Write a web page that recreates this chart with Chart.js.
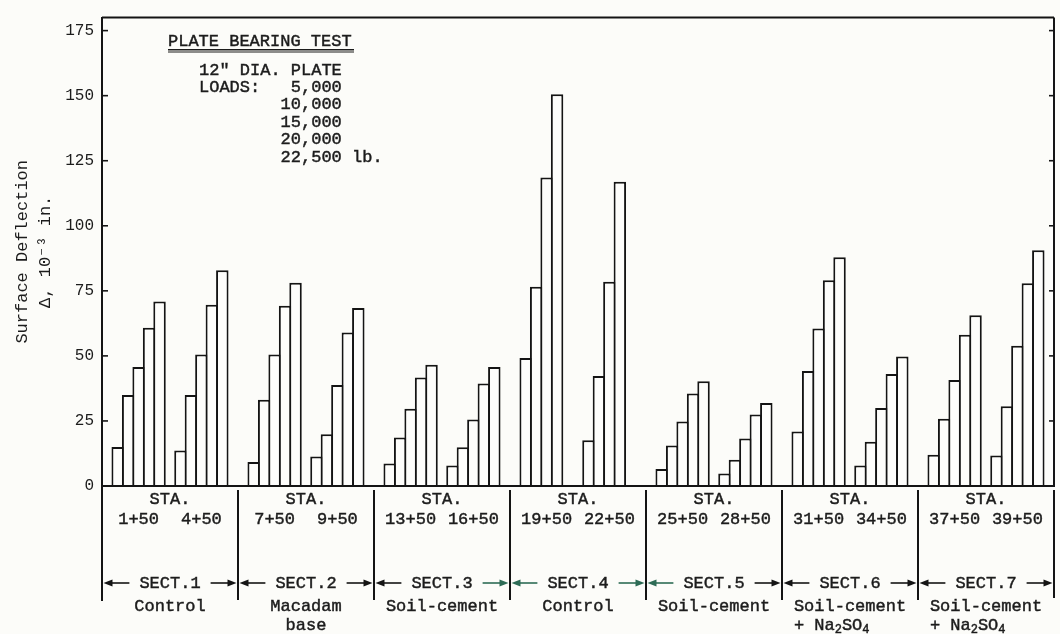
<!DOCTYPE html>
<html>
<head>
<meta charset="utf-8">
<title>Plate Bearing Test - Surface Deflection</title>
<script src="https://cdn.jsdelivr.net/npm/chart.js@4.4.1/dist/chart.umd.min.js"></script>
<style>
  html, body { margin: 0; padding: 0; background: #fcfcf9; }
  #wrap { width: 1060px; height: 634px; }
</style>
</head>
<body>
<div id="wrap"><canvas id="deflChart" width="1060" height="634"></canvas></div>
<script>
// ----- Data -----
const sections = ["SECT.1", "SECT.2", "SECT.3", "SECT.4", "SECT.5", "SECT.6", "SECT.7"];
const sectionTypes = [
  ["Control"],
  ["Macadam", "base"],
  ["Soil-cement"],
  ["Control"],
  ["Soil-cement"],
  ["Soil-cement", "+ Na2SO4"],
  ["Soil-cement", "+ Na2SO4"],
];
const stations = [
  "1+50", "4+50", "7+50", "9+50", "13+50", "16+50", "19+50",
  "22+50", "25+50", "28+50", "31+50", "34+50", "37+50", "39+50",
];
const loads = ["5,000", "10,000", "15,000", "20,000", "22,500"];

// surface deflection (10^-3 in.) at each station, one array per plate load
const load5000 = [15, 13.6, 9.2, 11.3, 8.6, 7.9, 49.2, 17.6, 6.5, 4.8, 20.9, 7.9, 12.0, 11.7];
const load10000 = [35, 35, 33.1, 19.9, 18.6, 14.9, 76.6, 42.3, 15.6, 10.1, 44.2, 17.0, 25.8, 30.6];
const load15000 = [45.7, 50.5, 50.5, 38.8, 29.7, 25.6, 118.6, 78.5, 24.8, 18.3, 60.5, 30.0, 40.7, 53.9];
const load20000 = [60.8, 69.7, 69.3, 59.0, 41.7, 39.4, 150.5, 116.9, 35.5, 27.5, 79.1, 43.0, 58.1, 77.9];
const load22500 = [70.9, 82.9, 78.1, 68.4, 46.6, 45.7, null, null, 40.3, 31.9, 87.9, 49.8, 65.6, 90.6];
const loadSeries = [load5000, load10000, load15000, load20000, load22500];

const yTicks = [0, 25, 50, 75, 100, 125, 150, 175];

// ----- Styles -----
const mono = "'Liberation Mono', 'Courier New', monospace";
const ink = "#141414";
const textInk = "#1c1c1c";
const paper = "#fdfdfb";
const arrowTint = "#2d6b55";
const slotsPerSection = 13;

// ----- Slots: gap, 5 loads, gap, 5 loads, gap per section -----
const labels = [];
const values = [];
sections.forEach((sec, s) => {
  labels.push("");
  values.push(null);
  for (let j = 0; j < 2; j++) {
    const st = s * 2 + j;
    loadSeries.forEach((series, l) => {
      labels.push(stations[st] + " @ " + loads[l]);
      values.push(series[st]);
    });
    labels.push("");
    values.push(null);
  }
});

// ----- Helpers -----
function line(ctx, x1, y1, x2, y2, w, color) {
  ctx.beginPath();
  ctx.moveTo(x1, y1);
  ctx.lineTo(x2, y2);
  ctx.lineWidth = w;
  ctx.strokeStyle = color || ink;
  ctx.stroke();
}

// typed text: a thin stroke on top of the fill gives it some weight
function typeText(ctx, str, x, y) {
  ctx.fillText(str, x, y);
  ctx.lineWidth = 0.45;
  ctx.strokeStyle = ctx.fillStyle;
  ctx.strokeText(str, x, y);
}

function arrow(ctx, xFrom, xTo, y, color) {
  const dir = xTo > xFrom ? 1 : -1;
  line(ctx, xFrom, y, xTo - dir * 4, y, 1.6, color);
  ctx.beginPath();
  ctx.moveTo(xTo, y);
  ctx.lineTo(xTo - dir * 9, y - 3.5);
  ctx.lineTo(xTo - dir * 9, y + 3.5);
  ctx.closePath();
  ctx.fillStyle = color;
  ctx.fill();
}

// digits right after a letter are set as subscripts (Na2SO4)
function formulaParts(str) {
  const parts = [];
  for (let i = 0; i < str.length; i++) {
    const ch = str[i];
    const sub = /[0-9]/.test(ch) && i > 0 && /[A-Za-z]/.test(str[i - 1]);
    parts.push({ ch, sub });
  }
  return parts;
}

function drawFormula(ctx, str, x, y) {
  let cx = x;
  formulaParts(str).forEach((p) => {
    ctx.font = p.sub ? `12px ${mono}` : `17px ${mono}`;
    typeText(ctx, p.ch, cx, p.sub ? y + 5 : y);
    cx += ctx.measureText(p.ch).width;
  });
}

// ----- Plugin: frame, inner ticks and test note -----
const framePlugin = {
  id: "frame",
  afterDatasetsDraw(chart) {
    const { ctx, chartArea: a, scales } = chart;
    ctx.save();
    line(ctx, a.left, a.top, a.right, a.top, 2);
    line(ctx, a.right, a.top, a.right, a.bottom, 2);
    line(ctx, a.left - 1, a.bottom, a.right + 1, a.bottom, 2);
    yTicks.forEach((v) => {
      const y = scales.y.getPixelForValue(v);
      line(ctx, a.left, y, a.left + 6, y, 1.6);
      if (v > 0) line(ctx, a.right, y, a.right - 5, y, 1.6);
    });

    // test description
    ctx.fillStyle = textInk;
    ctx.textBaseline = "middle";
    ctx.textAlign = "left";
    ctx.font = `17px ${mono}`;
    typeText(ctx, "PLATE BEARING TEST", 168, 41);
    ctx.fillRect(168, 49, 186, 1.5);
    ctx.fillRect(168, 51.5, 186, 1);
    typeText(ctx, '12" DIA. PLATE', 199, 70);
    loads.forEach((ld, i) => {
      const prefix = i === 0 ? "LOADS:" : "";
      let txt = prefix + ld.padStart(14 - prefix.length);
      if (i === loads.length - 1) txt += " lb.";
      typeText(ctx, txt, 199, 87.5 + i * 17.4);
    });
    ctx.restore();
  },
};

// ----- Plugin: station / section table under the axis -----
const sectionPlugin = {
  id: "sectionTable",
  afterDraw(chart) {
    const { ctx, chartArea: a, scales } = chart;
    const x = scales.x;
    const slot = x.getPixelForValue(1) - x.getPixelForValue(0);
    const edge = (k) => x.getPixelForValue(k * slotsPerSection) - slot / 2;
    ctx.save();

    // dividers
    for (let k = 0; k <= sections.length; k++) {
      const ex = edge(k);
      if (k === 0) line(ctx, ex, a.bottom, ex, 601, 2);
      else line(ctx, ex, 490, ex, k === sections.length ? 598 : 600, 2);
    }

    ctx.textBaseline = "middle";
    sections.forEach((sec, s) => {
      const left = edge(s);
      const right = edge(s + 1);
      const mid = (left + right) / 2;

      ctx.fillStyle = textInk;
      ctx.font = `17px ${mono}`;
      ctx.textAlign = "center";
      typeText(ctx, "STA.", mid, 499);
      for (let j = 0; j < 2; j++) {
        const cx = x.getPixelForValue(s * slotsPerSection + 3 + j * 6);
        typeText(ctx, stations[s * 2 + j], cx, 519);
      }

      // section name with arrows out to the dividers
      const w = ctx.measureText(sec).width;
      typeText(ctx, sec, mid, 583);
      const leftColor = s === 3 || s === 4 ? arrowTint : ink;
      const rightColor = s === 2 || s === 3 ? arrowTint : ink;
      arrow(ctx, mid - w / 2 - 10, left + 1.5, 583, leftColor);
      arrow(ctx, mid + w / 2 + 10, right - 1.5, 583, rightColor);

      // section type
      const [first, second] = sectionTypes[s];
      ctx.fillStyle = textInk;
      ctx.font = `17px ${mono}`;
      ctx.textAlign = "center";
      typeText(ctx, first, mid, 606);
      if (second) {
        if (/\d/.test(second)) {
          ctx.textAlign = "left";
          drawFormula(ctx, second, mid - ctx.measureText(first).width / 2, 625);
        } else {
          typeText(ctx, second, mid, 625);
        }
      }
    });
    ctx.restore();
  },
};

// ----- Chart -----
const plotWidth = 952;
const slotWidth = plotWidth / labels.length;

new Chart(document.getElementById("deflChart").getContext("2d"), {
  type: "bar",
  data: {
    labels: labels,
    datasets: [
      {
        label: "Surface deflection",
        data: values,
        backgroundColor: paper,
        borderColor: ink,
        borderWidth: 2,
        borderSkipped: "start",
        categoryPercentage: 1,
        // bars overlap by one border so neighbours share a single line
        barPercentage: (slotWidth + 2) / slotWidth,
      },
    ],
  },
  options: {
    responsive: false,
    animation: false,
    devicePixelRatio: 1,
    layout: { padding: { top: 10, right: 6, bottom: 148, left: 0 } },
    plugins: {
      legend: { display: false },
      tooltip: { enabled: false },
    },
    scales: {
      x: {
        grid: { display: false, drawTicks: false },
        ticks: { display: false },
        border: { display: true, color: ink, width: 2 },
        afterFit: (s) => {
          s.height = 0;
        },
      },
      y: {
        min: 0,
        max: 180,
        afterBuildTicks: (s) => {
          s.ticks = yTicks.map((v) => ({ value: v }));
        },
        ticks: {
          padding: 8,
          color: textInk,
          font: { family: mono, size: 16 },
        },
        grid: { display: false, drawTicks: false },
        border: { display: true, color: ink, width: 2 },
        title: {
          display: true,
          text: ["Surface Deflection", "\u0394, 10\u207B\u00B3 in."],
          color: textInk,
          font: { family: mono, size: 17, lineHeight: 1.35 },
          padding: { top: 11, bottom: 0 },
        },
        afterFit: (s) => {
          s.width = 102;
        },
      },
    },
  },
  plugins: [framePlugin, sectionPlugin],
});
</script>
</body>
</html>
